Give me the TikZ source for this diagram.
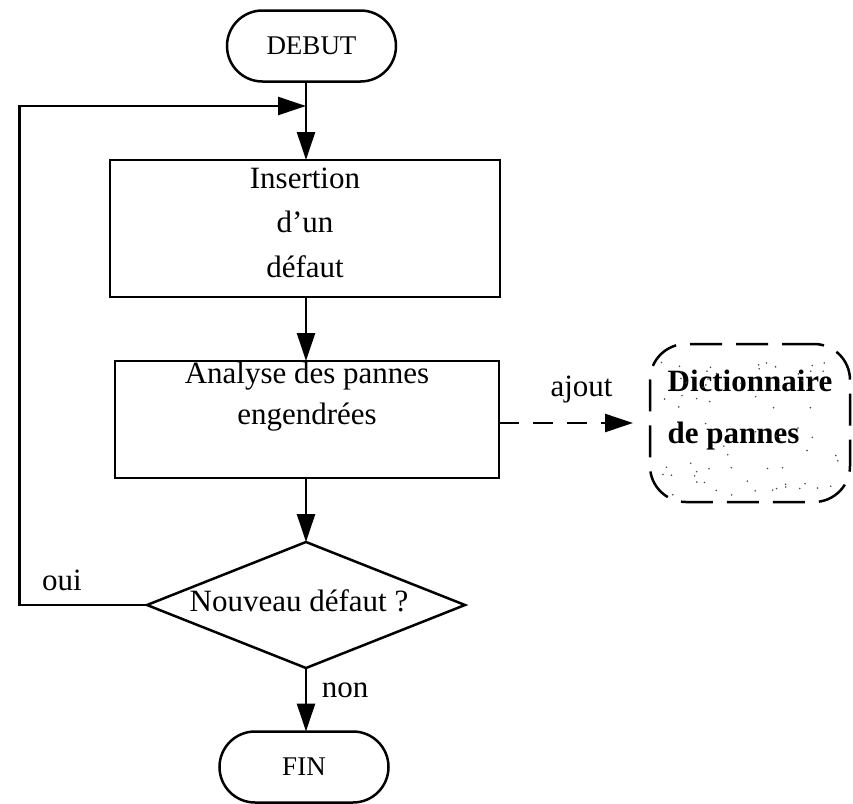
\documentclass[tikz,border=0pt]{standalone}
\usepackage{fontspec}
\setmainfont{Liberation Serif}
\usetikzlibrary{arrows.meta,shapes.geometric,shapes.misc}

\begin{document}
\begin{tikzpicture}[
  x=0.5pt, y=-0.5pt,
  line width=1.25pt,
  every node/.style={inner sep=0pt, outer sep=0pt},
  txt/.style={font=\fontsize{15.5}{18}\selectfont},
  terminal/.style={draw, rounded rectangle, minimum width=84.5pt,
    minimum height=35.5pt, font=\fontsize{13.5}{16}\selectfont},
  process/.style={draw, rectangle, txt},
  decision/.style={draw, diamond, minimum width=159pt, minimum height=63pt},
  store/.style={draw, rounded corners=18pt, dash pattern=on 16pt off 7pt,
    minimum width=100pt, minimum height=79pt},
  flow/.style={-{Triangle[length=14pt,width=9pt]}},
  dflow/.style={flow, dash pattern=on 10pt off 7pt, shorten >=8.5pt},
  lbl/.style={txt, anchor=base},
]
\useasboundingbox (0,0) rectangle (853,804);

% main column
\coordinate (spine) at (306,0);

\node[terminal] (debut) at (311.5,46) {DEBUT};

\node[process, minimum width=195pt, minimum height=68.5pt,
      text height=14pt, text depth=54.5pt] (ins) at (305,228.5)
  {\fontsize{15.5}{22.25}\selectfont
   \begin{tabular}[t]{@{}c@{}}Insertion\\d'un\\défaut\end{tabular}};

\node[process, minimum width=192pt, minimum height=58.5pt,
      text height=11pt, text depth=47.5pt] (ana) at (307,419.5)
  {\fontsize{15.5}{20.5}\selectfont
   \begin{tabular}[t]{@{}c@{}}Analyse des pannes\\engendrées\end{tabular}};

\node[decision] (dec) at (306,605) {};
\node[lbl] (qtext) at (299,611) {Nouveau défaut ?};

\node[terminal] (fin) at (304,767) {FIN};

% fault dictionary
\node[store, text height=23.5pt, text depth=55.5pt] (dict) at (750,423)
  {\fontsize{15.5}{26}\selectfont\bfseries
   \begin{tabular}[t]{@{}l@{}}Dictionnaire\\de pannes\end{tabular}};
\begin{scope}
  \pgfmathsetseed{17}
  \foreach \i in {1,...,70} {
    \pgfmathsetmacro{\sx}{660+180*rnd}
    \pgfmathsetmacro{\sy}{360+135*rnd}
    \fill[black!70] (\sx,\sy) circle (0.45pt);
  }
\end{scope}

% connectors
\coordinate (loopcorner) at (19.5,106);
\coordinate (merge) at (306,106);

\draw[flow] (debut.south -| spine) -- (ins.north -| spine);
\draw[flow] (ins.south -| spine) -- (ana.north -| spine);
\draw[flow] (ana.south -| spine) -- (dec.north);
\draw[flow] (dec.south) -- (fin.north -| spine);
\draw[flow] (dec.west) -| (loopcorner) -- (merge);
\draw[dflow] (dict.west -| ana.east) -- (dict.west);

% branch labels
\node[lbl] (oui) at (62,590) {oui};
\node[lbl] (non) at (345,697) {non};
\node[lbl] (ajout) at (581.5,396) {ajout};
\end{tikzpicture}
\end{document}
